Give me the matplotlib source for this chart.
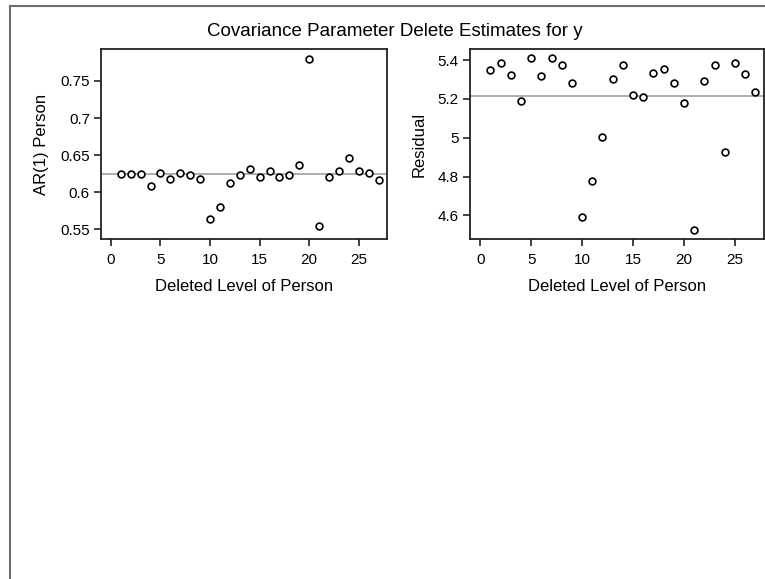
"""Covariance parameter delete estimates, two panels side by side."""

import matplotlib
matplotlib.use('Agg')
import matplotlib.pyplot as plt
from matplotlib.lines import Line2D

plt.rcParams['font.family'] = ['Liberation Sans', 'DejaVu Sans']

# deleted level of Person
levels = list(range(1, 28))

# AR(1) Person estimate with each level deleted
ar1 = [0.624, 0.625, 0.625, 0.608, 0.626, 0.618, 0.626, 0.623, 0.618, 0.564,
       0.580, 0.612, 0.623, 0.631, 0.620, 0.628, 0.620, 0.623, 0.637, 0.780,
       0.554, 0.620, 0.629, 0.646, 0.629, 0.626, 0.616]
ar1_full = 0.625

# residual estimate with each level deleted
resid = [5.347, 5.384, 5.321, 5.191, 5.409, 5.316, 5.409, 5.372, 5.284, 4.593,
         4.779, 5.005, 5.303, 5.372, 5.222, 5.210, 5.334, 5.353, 5.284, 5.178,
         4.524, 5.290, 5.372, 4.924, 5.384, 5.328, 5.234]
resid_full = 5.214

ar1_ticks = [0.55, 0.6, 0.65, 0.7, 0.75]
ar1_ticklabels = ['0.55', '0.6', '0.65', '0.7', '0.75']
resid_ticks = [4.6, 4.8, 5.0, 5.2, 5.4]
resid_ticklabels = ['4.6', '4.8', '5', '5.2', '5.4']
x_ticks = [0, 5, 10, 15, 20, 25]

W, H = 765, 579
fig = plt.figure(figsize=(W / 100, H / 100), dpi=100)

# frame around the whole graph (only left and top edges show)
fig.add_artist(Line2D([10 / W, 10 / W], [0, 1 - 6 / H], color='#6e6e6e', lw=1.5))
fig.add_artist(Line2D([10 / W, 1], [1 - 6 / H, 1 - 6 / H], color='#6e6e6e', lw=1.5))

fig.text(395 / W, 1 - 32 / H, 'Covariance Parameter Delete Estimates for y',
         ha='center', va='center', fontsize=13.5)

panels = [
    ([101 / W, 1 - 239 / H, 286 / W, 190 / H], ar1, ar1_full, 'AR(1) Person',
     (0.537, 0.793), ar1_ticks, ar1_ticklabels),
    ([470 / W, 1 - 239 / H, 294 / W, 190 / H], resid, resid_full, 'Residual',
     (4.478, 5.457), resid_ticks, resid_ticklabels),
]

for rect, vals, full, ylabel, ylim, yt, ytl in panels:
    ax = fig.add_axes(rect)
    ax.axhline(full, color='#a0a0a0', lw=1.2, zorder=1)
    ax.scatter(levels, vals, s=24, facecolors='white', edgecolors='black',
               linewidths=1.2, zorder=3)
    ax.set_xlim(-1.0, 27.85)
    ax.set_ylim(*ylim)
    ax.set_xticks(x_ticks)
    ax.set_yticks(yt)
    ax.set_yticklabels(ytl)
    ax.tick_params(direction='out', length=5, width=1.2, labelsize=11, pad=3,
                   color='#222222')
    ax.tick_params(axis='x', pad=5)
    for sp in ax.spines.values():
        sp.set_linewidth(1.3)
        sp.set_color('#222222')
    ax.set_xlabel('Deleted Level of Person', fontsize=12, labelpad=9)
    ax.set_ylabel(ylabel, fontsize=12, labelpad=8)

fig.savefig('out.png', dpi=100)
